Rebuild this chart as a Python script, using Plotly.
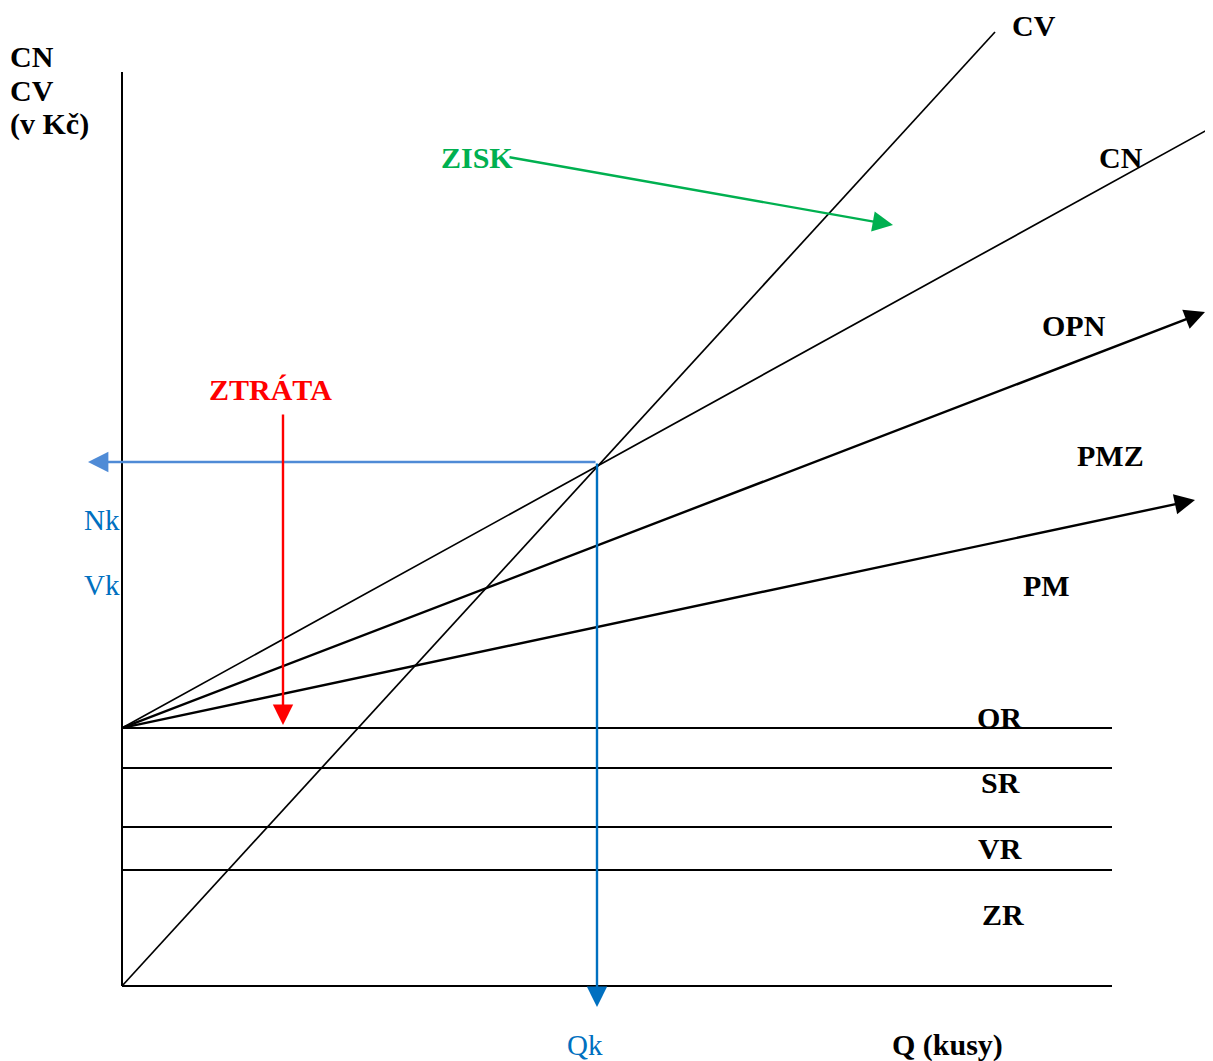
import plotly.graph_objects as go

# ---------------- data ----------------
q_axis_end = 99.0          # end of Q axis
kc_axis_top = 91.4         # top of CN/CV axis
fixed_names = ["OR", "SR", "VR", "ZR"]
fixed_levels = [25.8, 21.8, 15.9, 11.6]

cv_q = [0, 87.3]
cv_kc = [0, 95.4]
cn_q = [0, 108.5]
cn_kc = [25.8, 85.6]
opn_q = [0, 108.3]
opn_kc = [25.8, 67.4]
pm_q = [0, 107.3]
pm_kc = [25.8, 48.6]

qk = 47.5
nk = 52.4
qk_arrow_end = -2.1
nk_arrow_end = -3.4

ztrata_q = [16.1, 16.1]
ztrata_kc = [57.3, 26.1]
zisk_q = [38.6, 77.1]
zisk_kc = [82.9, 76.1]

# line labels
line_labels = ["CV", "CN", "OPN", "PMZ", "PM", "OR", "SR", "VR", "ZR"]
line_label_q = [91.2, 99.9, 95.2, 98.8, 92.4, 87.7, 87.8, 87.8, 88.1]
line_label_kc = [96.1, 82.9, 66.1, 53.1, 40.1, 26.9, 20.4, 13.8, 7.2]

yaxis_title_lines = ["CN", "CV", "(v Kč)"]
yaxis_title_kc = [93.0, 89.6, 86.2]

BLACK = "#000000"
BLUE = "#0070C0"
LBLUE = "#4F8BD6"
RED = "#FF0000"
GREEN = "#00B050"
FONT = "Liberation Serif"

fig = go.Figure()

def seg(x, y, width=1.5, color=BLACK):
    fig.add_trace(go.Scatter(x=x, y=y, mode="lines", hoverinfo="skip",
                             line=dict(color=color, width=width), showlegend=False))

# axes
seg([0, 0], [0, kc_axis_top], 2.0)
seg([0, q_axis_end], [0, 0], 2.0)
# fixed cost levels
for lv in fixed_levels:
    seg([0, q_axis_end], [lv, lv], 1.8)
# CV, CN
seg(cv_q, cv_kc, 1.7)
seg(cn_q, cn_kc, 1.7)

def arrow(x0, y0, x1, y1, color, width=2, head=2, size=1.3):
    fig.add_annotation(x=x1, y=y1, ax=x0, ay=y0, xref="x", yref="y", axref="x", ayref="y",
                       showarrow=True, arrowhead=head, arrowsize=size, arrowwidth=width,
                       arrowcolor=color, standoff=0, startstandoff=0, text="")

arrow(opn_q[0], opn_kc[0], opn_q[1], opn_kc[1], BLACK, 2.4, 2, 1.7)
arrow(pm_q[0], pm_kc[0], pm_q[1], pm_kc[1], BLACK, 2.4, 2, 1.7)
arrow(qk, nk, nk_arrow_end, nk, LBLUE, 2.4, 2, 1.7)
arrow(qk, nk, qk, qk_arrow_end, BLUE, 2.4, 2, 1.7)
arrow(ztrata_q[0], ztrata_kc[0], ztrata_q[1], ztrata_kc[1], RED, 2.4, 2, 1.7)
arrow(zisk_q[0], zisk_kc[0], zisk_q[1], zisk_kc[1], GREEN, 2.4, 2, 1.7)

def label(x, y, text, color=BLACK, bold=True, size=30, xanchor="center"):
    t = f"<b>{text}</b>" if bold else text
    fig.add_annotation(x=x, y=y, xref="x", yref="y", text=t, showarrow=False,
                       xanchor=xanchor, yanchor="middle",
                       font=dict(family=FONT, size=size, color=color))

for name, x, y in zip(line_labels, line_label_q, line_label_kc):
    label(x, y, name)

for t, y in zip(yaxis_title_lines, yaxis_title_kc):
    label(-11.4, y, t, xanchor="left")

label(82.5, -5.9, "Q (kusy)")
label(46.3, -5.9, "Qk", BLUE, bold=False, size=29)
label(-2.0, 46.6, "Nk", BLUE, bold=False, size=29)
label(-2.0, 40.1, "Vk", BLUE, bold=False, size=29)
label(14.8, 59.7, "ZTRÁTA", RED)
label(35.5, 82.9, "ZISK", GREEN)

# page body has an 8px margin: figure spans the rest of the window
fig.update_layout(
    width=1205, height=1053,
    margin=dict(l=0, r=0, t=0, b=0),
    paper_bgcolor="white", plot_bgcolor="white",
    xaxis=dict(range=[-11.4, 109.1], visible=False, fixedrange=True),
    yaxis=dict(range=[-7.5, 97.8], visible=False, fixedrange=True),
    showlegend=False,
)

fig.write_html("out.html")
